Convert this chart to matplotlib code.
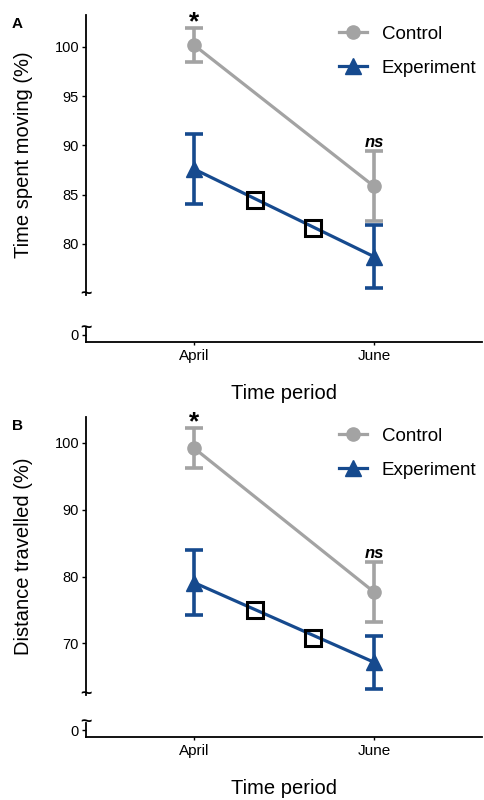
import matplotlib.pyplot as plt
from matplotlib.lines import Line2D
import numpy as np

plt.rcParams['font.family'] = ['Liberation Sans', 'DejaVu Sans']

# data
periods = ['April', 'June']
x_pos = [1, 2]
mid_x = [1.34, 1.66]

moving_ctrl = [100.2, 85.85]
moving_ctrl_err = [1.7, 3.55]
moving_exp = [87.6, 78.7]
moving_exp_err = [3.6, 3.2]
moving_mid = [84.5, 81.6]

dist_ctrl = [99.2, 77.7]
dist_ctrl_err = [2.95, 4.45]
dist_exp = [79.1, 67.2]
dist_exp_err = [4.8, 3.95]
dist_mid = [75.0, 70.8]

sig_labels = ['*', 'ns']

GRAY = '#a3a3a3'
BLUE = '#164a8e'

fig = plt.figure(figsize=(4.84, 8.0), dpi=100)


def panel(top_rect, bot_rect, ctrl, ctrl_err, exp, exp_err, mid, ylim, yticks,
          ylabel, letter):
    ax = fig.add_axes(top_rect)
    axb = fig.add_axes(bot_rect)

    ax.plot(x_pos, ctrl, color=GRAY, lw=2.3, marker='o', ms=9.5, zorder=3)
    ax.errorbar(x_pos, ctrl, yerr=ctrl_err, fmt='none', ecolor=GRAY,
                elinewidth=2.6, capsize=6.5, capthick=2.6, zorder=3)
    ax.plot(x_pos, exp, color=BLUE, lw=2.3, marker='^', ms=11, zorder=4)
    ax.errorbar(x_pos, exp, yerr=exp_err, fmt='none', ecolor=BLUE,
                elinewidth=2.6, capsize=6.5, capthick=2.6, zorder=4)
    ax.plot(mid_x, mid, ls='none', marker='s', ms=12, mfc='none',
            mec='black', mew=2.2, zorder=5)

    # significance labels above the control error bars
    tops = np.array(ctrl) + np.array(ctrl_err)
    ax.annotate(sig_labels[0], (x_pos[0], tops[0]), xytext=(0, -4),
                textcoords='offset points', ha='center', va='bottom',
                fontsize=19, fontweight='bold', annotation_clip=False)
    ax.annotate(sig_labels[1], (x_pos[1], tops[1]), xytext=(0, 1),
                textcoords='offset points', ha='center', va='bottom',
                fontsize=12, fontweight='bold', fontstyle='italic',
                annotation_clip=False)

    ax.set_xlim(0.4, 2.6)
    ax.set_ylim(*ylim)
    ax.set_yticks(yticks)
    ax.set_xticks([])
    for s in ['top', 'right', 'bottom']:
        ax.spines[s].set_visible(False)
    ax.spines['left'].set_linewidth(1.3)
    ax.tick_params(axis='y', labelsize=10.5, length=3, width=1, pad=2)
    ax.set_ylabel(ylabel, fontsize=14.5)
    ax.yaxis.set_label_coords(-0.135, 0.5)
    ax.text(0, 0, '~', transform=ax.transAxes, ha='center', va='center',
            fontsize=14, fontweight='bold')

    # bottom strip holding the zero after the axis break
    axb.set_xlim(0.4, 2.6)
    axb.set_ylim(-1, 1)
    axb.set_yticks([0])
    axb.set_xticks(x_pos)
    axb.set_xticklabels(periods)
    for s in ['top', 'right']:
        axb.spines[s].set_visible(False)
    axb.spines['left'].set_linewidth(1.3)
    axb.spines['bottom'].set_linewidth(1.3)
    axb.tick_params(axis='y', labelsize=10.5, length=3, width=1, pad=2)
    axb.tick_params(axis='x', labelsize=11, length=2, width=1, pad=3)
    axb.set_xlabel('Time period', fontsize=14.5, labelpad=15)
    axb.text(0, 1, '~', transform=axb.transAxes, ha='center', va='center',
             fontsize=14, fontweight='bold')

    handles = [Line2D([], [], color=GRAY, lw=2.3, marker='o', ms=9.5),
               Line2D([], [], color=BLUE, lw=2.3, marker='^', ms=11)]
    ax.legend(handles, ['Control', 'Experiment'], loc='upper left',
              bbox_to_anchor=(0.605, 1.008), frameon=False, fontsize=13.5,
              handlelength=1.5, labelspacing=0.9, handletextpad=0.8,
              borderaxespad=0.3)

    fig.text(0.025, top_rect[1] + top_rect[3] - 0.003, letter,
             fontsize=11, fontweight='bold', ha='left', va='top')
    return ax


panel([0.1777, 0.63125, 0.818, 0.35], [0.1777, 0.5725, 0.818, 0.0175],
      moving_ctrl, moving_ctrl_err, moving_exp, moving_exp_err, moving_mid,
      (74.8, 103.25), [80, 85, 90, 95, 100], 'Time spent moving (%)', 'A')
panel([0.1777, 0.13125, 0.818, 0.348], [0.1777, 0.0784, 0.818, 0.0182],
      dist_ctrl, dist_ctrl_err, dist_exp, dist_exp_err, dist_mid,
      (62.3, 103.9), [70, 80, 90, 100], 'Distance travelled (%)', 'B')

fig.savefig('out.png', dpi=100)
